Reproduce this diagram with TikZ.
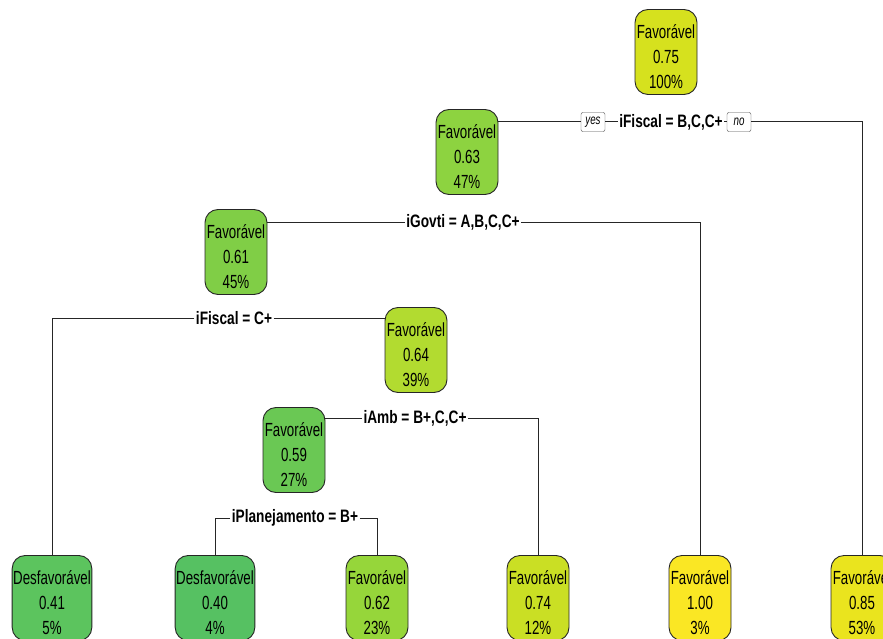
\documentclass[tikz,border=0pt]{standalone}
\usepackage{fontspec}
\setmainfont{Liberation Sans}
\newfontfamily\nodefont[FakeStretch=0.7]{Liberation Sans}
\newfontfamily\splitfont[FakeStretch=0.76]{Liberation Sans}
\newcommand\ntext[3]{\rule{0pt}{24pt}#1\\#2\\#3}
\definecolor{c75}{RGB}{214,225,30}
\definecolor{c63}{RGB}{141,211,64}
\definecolor{c61}{RGB}{128,206,70}
\definecolor{c64}{RGB}{178,219,48}
\definecolor{c59}{RGB}{106,200,84}
\definecolor{c41}{RGB}{92,196,94}
\definecolor{c40}{RGB}{86,193,98}
\definecolor{c62}{RGB}{150,214,58}
\definecolor{c74}{RGB}{202,223,36}
\definecolor{c100}{RGB}{250,231,36}
\definecolor{c85}{RGB}{234,228,30}
\tikzset{
  tnode/.style={draw=black!85,line width=0.9pt,rounded corners=13pt,align=center,
    inner sep=1pt,minimum width=62pt,minimum height=85pt,
    font=\nodefont\fontsize{19}{25}\selectfont},
  split/.style={inner sep=1.5pt,font=\splitfont\bfseries\fontsize{18}{20}\selectfont},
  yn/.style={draw=black!70,rounded corners=2pt,fill=white,inner sep=1pt,
    minimum width=24pt,minimum height=19pt,font=\nodefont\itshape\fontsize{14}{16}\selectfont},
  branch/.style={draw=black!85,line width=1pt}
}
\begin{document}
\begin{tikzpicture}[x=1pt,y=-1pt]
    \clip (0,0) rectangle (883,639);
    % inner nodes
    \node[tnode,fill=c75] (n75) at (666,52) {\ntext{Favorável}{0.75}{100\%}};
    \node[tnode,fill=c63] (n63) at (467,152) {\ntext{Favorável}{0.63}{47\%}};
    \node[tnode,fill=c61] (n61) at (236,252) {\ntext{Favorável}{0.61}{45\%}};
    \node[tnode,fill=c64] (n64) at (416,350) {\ntext{Favorável}{0.64}{39\%}};
    \node[tnode,fill=c59] (n59) at (294,450) {\ntext{Favorável}{0.59}{27\%}};
    % leaves
    \node[tnode,fill=c41] (n41) at (52,598) {\ntext{Desfavorável}{0.41}{5\%}};
    \node[tnode,fill=c40] (n40) at (215,598) {\ntext{Desfavorável}{0.40}{4\%}};
    \node[tnode,fill=c62] (n62) at (377,598) {\ntext{Favorável}{0.62}{23\%}};
    \node[tnode,fill=c74] (n74) at (538,598) {\ntext{Favorável}{0.74}{12\%}};
    \node[tnode,fill=c100] (n100) at (700,598) {\ntext{Favorável}{1.00}{3\%}};
    \node[tnode,fill=c85] (n85) at (862,598) {\ntext{Favorável}{0.85}{53\%}};
    % splits
    \node[split] (sFiscal) at (671,122) {iFiscal = B,C,C+};
    \node[yn] (yes) at (593,122) {yes};
    \node[yn] (no) at (739,122) {no};
    \node[split] (sGovti) at (463,222) {iGovti = A,B,C,C+};
    \node[split] (sFiscalC) at (234,318) {iFiscal = C+};
    \node[split] (sAmb) at (415,418) {iAmb = B+,C,C+};
    \node[split] (sPlan) at (295,518) {iPlanejamento = B+};
    % branches
    \draw[branch] (yes.west) -- (yes.west -| n63.east);
    \draw[branch] (yes.east) -- (sFiscal.west);
    \draw[branch] (sFiscal.east) -- (no.west);
    \draw[branch] (no.east) -| (n85.north);
    \draw[branch] (sGovti.west) -- (sGovti.west -| n61.east);
    \draw[branch] (sGovti.east) -| (n100.north);
    \draw[branch] (sFiscalC.west) -| (n41.north);
    \draw[branch] (sFiscalC.east) -- (sFiscalC.east -| n64.west);
    \draw[branch] (sAmb.west) -- (sAmb.west -| n59.east);
    \draw[branch] (sAmb.east) -| (n74.north);
    \draw[branch] (sPlan.west) -| (n40.north);
    \draw[branch] (sPlan.east) -| (n62.north);
\end{tikzpicture}
\end{document}
